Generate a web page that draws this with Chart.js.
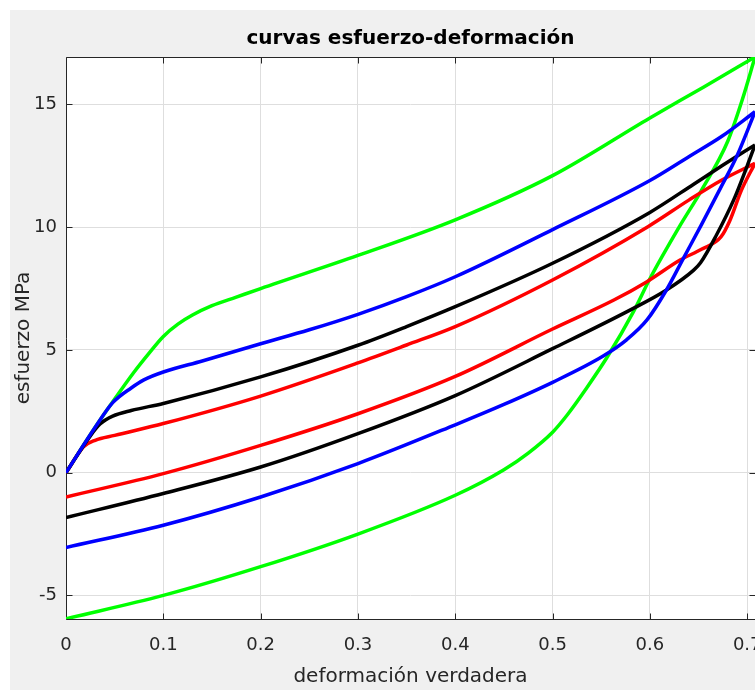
<!DOCTYPE html>
<html>
<head>
<meta charset="utf-8">
<script src="https://cdn.jsdelivr.net/npm/chart.js@4.4.1/dist/chart.umd.min.js"></script>
<style>
html, body { margin: 0; padding: 0; background: #ffffff; overflow: hidden; }
#fig { position: absolute; left: 10px; top: 10px; width: 745px; height: 680px; background: #f0f0f0; overflow: hidden; }
#c { position: absolute; left: 0; top: 0; }
</style>
</head>
<body>
<div id="fig"><canvas id="c" width="790" height="680"></canvas></div>
<script>
// axes
var xTicks = [0, 0.1, 0.2, 0.3, 0.4, 0.5, 0.6, 0.7];
var xTickLabels = ['0', '0.1', '0.2', '0.3', '0.4', '0.5', '0.6', '0.7'];
var yTicks = [-5, 0, 5, 10, 15];
var yTickLabels = ['-5', '0', '5', '10', '15'];
var xMax = 0.708, yMin = -5.96, yMax = 16.93;

// loading (upper) and unloading (lower) branches
var blueUpX = [0, 0.03, 0.048, 0.067, 0.08, 0.1, 0.14, 0.2, 0.25, 0.3, 0.35, 0.4, 0.5, 0.6, 0.64, 0.674, 0.708];
var blueUpY = [0, 1.85, 2.85, 3.45, 3.78, 4.1, 4.55, 5.25, 5.82, 6.45, 7.17, 7.98, 9.9, 11.9, 12.87, 13.7, 14.7];
var blueDownX = [0, 0.1, 0.2, 0.3, 0.4, 0.45, 0.5, 0.552, 0.576, 0.597, 0.617, 0.634, 0.653, 0.672, 0.69, 0.708];
var blueDownY = [-3.05, -2.14, -0.99, 0.37, 1.95, 2.78, 3.68, 4.75, 5.41, 6.22, 7.44, 8.7, 10.1, 11.55, 12.95, 14.7];

var blackUpX = [0, 0.025, 0.035, 0.048, 0.067, 0.1, 0.2, 0.3, 0.35, 0.4, 0.5, 0.6, 0.645, 0.674, 0.708];
var blackUpY = [0, 1.5, 1.98, 2.3, 2.53, 2.82, 3.9, 5.19, 5.95, 6.76, 8.53, 10.6, 11.75, 12.5, 13.35];
var blackDownX = [0, 0.1, 0.2, 0.3, 0.4, 0.5, 0.58, 0.617, 0.645, 0.652, 0.668, 0.686, 0.7, 0.708];
var blackDownY = [-1.83, -0.85, 0.23, 1.59, 3.14, 5.05, 6.63, 7.44, 8.25, 8.55, 9.65, 11.1, 12.5, 13.35];

var redUpX = [0, 0.018, 0.03, 0.05, 0.1, 0.2, 0.3, 0.35, 0.4, 0.5, 0.598, 0.64, 0.674, 0.708];
var redUpY = [0, 1.05, 1.32, 1.52, 2.0, 3.12, 4.47, 5.2, 5.95, 7.85, 10.02, 11.1, 11.92, 12.6];
var redDownX = [0, 0.1, 0.2, 0.3, 0.4, 0.5, 0.563, 0.597, 0.631, 0.653, 0.673, 0.682, 0.694, 0.708];
var redDownY = [-0.99, -0.04, 1.11, 2.4, 3.92, 5.85, 7.03, 7.78, 8.66, 9.1, 9.6, 10.25, 11.5, 12.6];

var greenUpX = [0, 0.03, 0.05, 0.07, 0.085, 0.1, 0.115, 0.13, 0.15, 0.175, 0.2, 0.3, 0.4, 0.5, 0.6, 0.655, 0.708];
var greenUpY = [0, 1.85, 3.0, 4.1, 4.85, 5.55, 6.05, 6.42, 6.8, 7.15, 7.5, 8.85, 10.3, 12.1, 14.45, 15.7, 16.93];
var greenDownX = [0, 0.1, 0.2, 0.3, 0.4, 0.45, 0.475, 0.5, 0.515, 0.535, 0.556, 0.583, 0.6, 0.63, 0.653, 0.68, 0.695, 0.708];
var greenDownY = [-5.95, -5.0, -3.83, -2.5, -0.92, 0.12, 0.8, 1.65, 2.35, 3.45, 4.7, 6.55, 7.9, 10.0, 11.5, 13.5, 15.2, 16.93];

function pts(xs, ys) {
    return xs.map(function (x, i) { return { x: x, y: ys[i] }; });
}

function branch(xs, ys, color) {
    return {
        data: pts(xs, ys),
        borderColor: color,
        backgroundColor: color,
        borderWidth: 3.5,
        pointRadius: 0,
        showLine: true,
        fill: false,
        cubicInterpolationMode: 'monotone'
    };
}

// white plot area, box and inward tick marks like the original figure
var frame = {
    id: 'frame',
    beforeDraw: function (chart) {
        var a = chart.chartArea, ctx = chart.ctx;
        ctx.save();
        ctx.fillStyle = '#ffffff';
        ctx.fillRect(a.left, a.top, a.right - a.left, a.bottom - a.top);
        ctx.restore();
    },
    beforeDatasetsDraw: function (chart) {
        var a = chart.chartArea, ctx = chart.ctx;
        var xs = chart.scales.x, ys = chart.scales.y;
        var l = Math.round(a.left) + 0.5, r = Math.round(a.right) + 0.5;
        var t = Math.round(a.top) + 0.5, b = Math.round(a.bottom) + 0.5;
        ctx.save();
        ctx.strokeStyle = '#262626';
        ctx.lineWidth = 1;
        ctx.beginPath();
        ctx.rect(l, t, r - l, b - t);
        xTicks.forEach(function (v) {
            var p = Math.round(xs.getPixelForValue(v)) + 0.5;
            ctx.moveTo(p, b); ctx.lineTo(p, b - 6);
            ctx.moveTo(p, t); ctx.lineTo(p, t + 6);
        });
        yTicks.forEach(function (v) {
            var p = Math.round(ys.getPixelForValue(v)) + 0.5;
            ctx.moveTo(l, p); ctx.lineTo(l + 6, p);
            ctx.moveTo(r, p); ctx.lineTo(r - 6, p);
        });
        ctx.stroke();
        ctx.restore();
    }
};

Chart.defaults.font.family = "'DejaVu Sans', 'Liberation Sans', sans-serif";
Chart.defaults.color = '#262626';

var ctx = document.getElementById('c').getContext('2d');
var myChart = new Chart(ctx, {
    type: 'scatter',
    data: {
        datasets: [
            branch(blueUpX, blueUpY, '#0000ff'),
            branch(blueDownX, blueDownY, '#0000ff'),
            branch(blackUpX, blackUpY, '#000000'),
            branch(blackDownX, blackDownY, '#000000'),
            branch(redUpX, redUpY, '#ff0000'),
            branch(redDownX, redDownY, '#ff0000'),
            branch(greenUpX, greenUpY, '#00ff00'),
            branch(greenDownX, greenDownY, '#00ff00')
        ]
    },
    options: {
        responsive: false,
        maintainAspectRatio: false,
        devicePixelRatio: 1,
        animation: false,
        layout: { padding: { left: 0, right: 45, top: 0, bottom: 0 } },
        plugins: {
            legend: { display: false },
            tooltip: { enabled: false },
            title: {
                display: true,
                text: 'curvas esfuerzo-deformación',
                color: '#000000',
                fullSize: false,
                font: { size: 20, weight: 'bold', lineHeight: 1.2 },
                padding: { top: 17, bottom: 6 }
            }
        },
        scales: {
            x: {
                type: 'linear',
                min: 0,
                max: xMax,
                afterBuildTicks: function (scale) {
                    scale.ticks = xTicks.map(function (v) { return { value: v }; });
                },
                afterFit: function (scale) { scale.height = 71; },
                ticks: {
                    autoSkip: false,
                    maxRotation: 0,
                    minRotation: 0,
                    padding: 16,
                    color: '#262626',
                    font: { size: 18 },
                    callback: function (v, i) { return xTickLabels[i]; }
                },
                grid: { color: '#dedede', lineWidth: 1, drawTicks: false },
                border: { display: false },
                title: {
                    display: true,
                    text: 'deformación verdadera',
                    color: '#262626',
                    font: { size: 20, lineHeight: 1.2 },
                    padding: { top: 0, bottom: 1 }
                }
            },
            y: {
                type: 'linear',
                min: yMin,
                max: yMax,
                afterBuildTicks: function (scale) {
                    scale.ticks = yTicks.map(function (v) { return { value: v }; });
                },
                afterFit: function (scale) { scale.width = 56; },
                ticks: {
                    autoSkip: false,
                    padding: 9,
                    color: '#262626',
                    font: { size: 18 },
                    callback: function (v, i) { return yTickLabels[i]; }
                },
                grid: { color: '#dedede', lineWidth: 1, drawTicks: false },
                border: { display: false },
                title: {
                    display: true,
                    text: 'esfuerzo MPa',
                    color: '#262626',
                    font: { size: 20, lineHeight: 1.2 },
                    padding: { top: 2, bottom: 0 }
                }
            }
        }
    },
    plugins: [frame]
});
</script>
</body>
</html>
